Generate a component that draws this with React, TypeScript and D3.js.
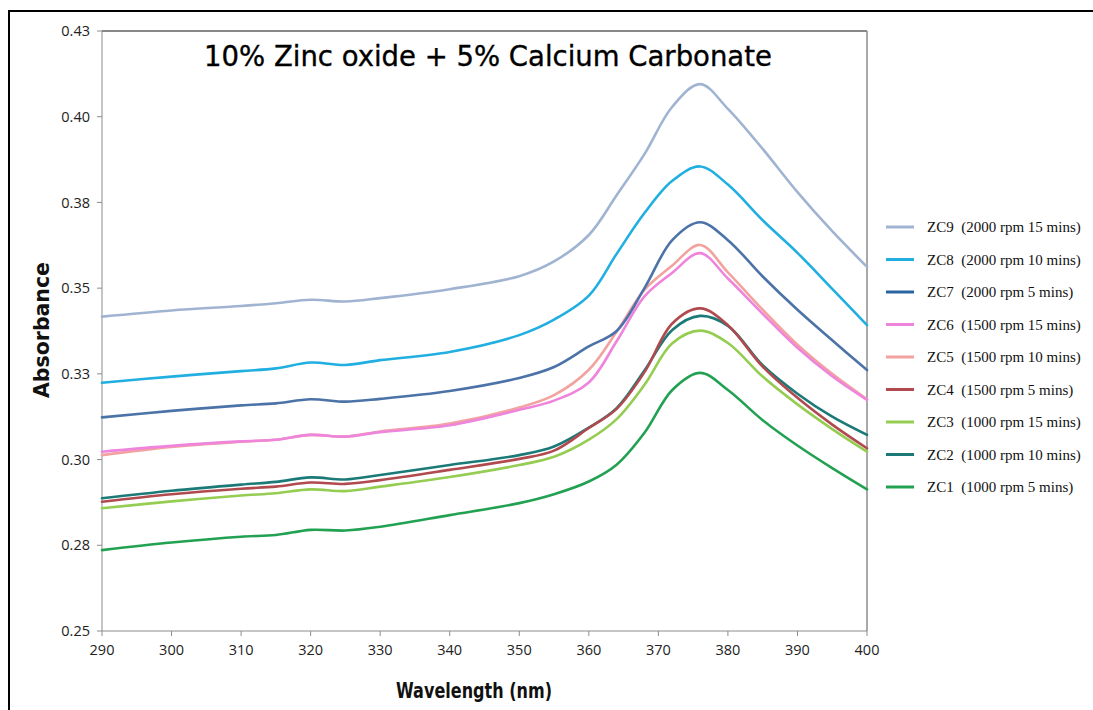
import React from "react";
import * as d3 from "d3";

// UV-Vis absorbance spectra, 290–400 nm
const wavelengths = [290, 300, 310, 315, 320, 325, 330, 340, 350, 355, 360, 364, 368, 372, 376, 380, 385, 390, 395, 400];

const zc1 = [0.2736, 0.2758, 0.2775, 0.278, 0.2795, 0.2793, 0.2804, 0.2838, 0.2873, 0.2899, 0.2936, 0.2985, 0.3078, 0.3203, 0.3253, 0.3203, 0.3115, 0.3041, 0.2975, 0.2913];
const zc2 = [0.2887, 0.2909, 0.2927, 0.2935, 0.2948, 0.2942, 0.2955, 0.2984, 0.3013, 0.3038, 0.3093, 0.315, 0.326, 0.3378, 0.3419, 0.339, 0.3275, 0.3192, 0.3125, 0.3072];
const zc3 = [0.2858, 0.2878, 0.2895, 0.2902, 0.2913, 0.2908, 0.2921, 0.2949, 0.2984, 0.3008, 0.3058, 0.3118, 0.3218, 0.3339, 0.3376, 0.334, 0.3242, 0.3161, 0.3089, 0.3023];
const zc4 = [0.2877, 0.2899, 0.2915, 0.2921, 0.2933, 0.2929, 0.294, 0.297, 0.3002, 0.3026, 0.3092, 0.3148, 0.3255, 0.3397, 0.3441, 0.3392, 0.3271, 0.318, 0.3102, 0.3033];
const zc5 = [0.3013, 0.3037, 0.3052, 0.3058, 0.3072, 0.3067, 0.3082, 0.3105, 0.3152, 0.3188, 0.3262, 0.3373, 0.3495, 0.3566, 0.3626, 0.3546, 0.3437, 0.3335, 0.325, 0.3176];
const zc6 = [0.3023, 0.304, 0.3053, 0.3058, 0.3072, 0.3067, 0.308, 0.31, 0.3145, 0.3172, 0.3225, 0.3345, 0.3476, 0.3545, 0.3602, 0.3528, 0.3425, 0.3326, 0.3243, 0.3174];
const zc7 = [0.3123, 0.3142, 0.3158, 0.3164, 0.3176, 0.3169, 0.3177, 0.32, 0.3238, 0.327, 0.333, 0.3375, 0.35, 0.364, 0.3692, 0.364, 0.3534, 0.3437, 0.3348, 0.3261];
const zc8 = [0.3224, 0.3242, 0.3258, 0.3266, 0.3283, 0.3276, 0.329, 0.3314, 0.3363, 0.3408, 0.3478, 0.36, 0.3719, 0.3813, 0.3855, 0.3802, 0.3698, 0.3603, 0.3498, 0.3392];
const zc9 = [0.3417, 0.3435, 0.3448, 0.3456, 0.3466, 0.3461, 0.3471, 0.3497, 0.3535, 0.3578, 0.3655, 0.3771, 0.3891, 0.4029, 0.4095, 0.4023, 0.3906, 0.378, 0.3666, 0.3562];

const seriesValues = [zc1, zc2, zc3, zc4, zc5, zc6, zc7, zc8, zc9];
const seriesLabels = [
  "ZC1  (1000 rpm 5 mins)",
  "ZC2  (1000 rpm 10 mins)",
  "ZC3  (1000 rpm 15 mins)",
  "ZC4  (1500 rpm 5 mins)",
  "ZC5  (1500 rpm 10 mins)",
  "ZC6  (1500 rpm 15 mins)",
  "ZC7  (2000 rpm 5 mins)",
  "ZC8  (2000 rpm 10 mins)",
  "ZC9  (2000 rpm 15 mins)",
];
const seriesColors = ["#22a152", "#1b7a77", "#95cc52", "#b04a4e", "#f2a3a0", "#ee84dc", "#4b73a8", "#20afe0", "#a0b4d2"];
const legendColors = ["#22a152", "#1b7a77", "#95cc52", "#b04a4e", "#f2a3a0", "#ee84dc", "#2a64a2", "#20afe0", "#a0b4d2"];

const xTicks = [290, 300, 310, 320, 330, 340, 350, 360, 370, 380, 390, 400];
const yTicks = [0.25, 0.275, 0.3, 0.325, 0.35, 0.375, 0.4, 0.425];
const yTickLabels = ["0.25", "0.28", "0.30", "0.33", "0.35", "0.38", "0.40", "0.43"];

export default function App() {
  const width = 1093;
  const height = 710;
  const x = d3.scaleLinear().domain([290, 400]).range([102, 867]);
  const y = d3.scaleLinear().domain([0.25, 0.425]).range([631, 31]);
  const line = d3
    .line<number>()
    .x((_, i) => x(wavelengths[i]))
    .y((d) => y(d))
    .curve(d3.curveCatmullRom.alpha(0.5));

  const [x0, x1] = x.range();
  const [yb, yt] = y.range();
  const tickFont = "'Open Sans', 'Noto Sans', sans-serif";

  // legend lists the highest series first
  const legendOrder = d3.range(seriesValues.length).reverse();

  return (
    <svg
      width={width}
      height={height}
      style={{ position: "absolute", left: 0, top: 0, background: "#fff" }}
    >
      <rect x={0} y={0} width={width} height={height} fill="#fff" />
      {/* outer frame */}
      <path d={`M9,${height} V11 H${width}`} fill="none" stroke="#000" strokeWidth={2} />

      {/* plot box */}
      <line x1={x0} x2={x1} y1={yt} y2={yt} stroke="#111" strokeWidth={1} />
      <line x1={x1} x2={x1} y1={yt} y2={yb} stroke="#8c8c8c" strokeWidth={1.5} />
      <line x1={x0} x2={x0} y1={yt} y2={yb} stroke="#8c8c8c" strokeWidth={1} />
      <line x1={x0} x2={x1} y1={yb} y2={yb} stroke="#8c8c8c" strokeWidth={1} />

      {/* y axis ticks */}
      {yTicks.map((t, i) => (
        <g key={`y${i}`}>
          <line x1={x0 - 5} x2={x0} y1={y(t)} y2={y(t)} stroke="#8c8c8c" />
          <text
            x={x0 - 12}
            y={y(t)}
            dy="0.35em"
            textAnchor="end"
            fontFamily={tickFont}
            fontSize={14.5}
            fill="#222"
          >
            {yTickLabels[i]}
          </text>
        </g>
      ))}

      {/* x axis ticks */}
      {xTicks.map((t) => (
        <g key={`x${t}`}>
          <line x1={x(t)} x2={x(t)} y1={yb} y2={yb + 5} stroke="#8c8c8c" />
          <text
            x={x(t)}
            y={yb + 24}
            textAnchor="middle"
            fontFamily={tickFont}
            fontSize={14.5}
            fill="#222"
          >
            {t}
          </text>
        </g>
      ))}

      {/* spectra */}
      {seriesValues.map((vals, i) => (
        <path
          key={seriesLabels[i]}
          d={line(vals) || ""}
          fill="none"
          stroke={seriesColors[i]}
          strokeWidth={2.6}
          strokeLinejoin="round"
          strokeLinecap="round"
        />
      ))}

      {/* title */}
      <text
        x={488}
        y={66}
        textAnchor="middle"
        fontFamily="'DejaVu Sans', sans-serif"
        fontSize={27.5}
        fill="#000"
        stroke="#000"
        strokeWidth={0.35}
      >
        10% Zinc oxide + 5% Calcium Carbonate
      </text>

      {/* axis titles */}
      <text
        transform={`translate(49,330) rotate(-90)`}
        textAnchor="middle"
        fontFamily="'DejaVu Sans', sans-serif"
        fontWeight="bold"
        fontSize={22}
        fill="#111"
        textLength={136}
        lengthAdjust="spacingAndGlyphs"
      >
        Absorbance
      </text>
      <text
        x={474}
        y={698}
        textAnchor="middle"
        fontFamily="'DejaVu Sans', sans-serif"
        fontWeight="bold"
        fontSize={22}
        fill="#111"
        textLength={156}
        lengthAdjust="spacingAndGlyphs"
      >
        Wavelength (nm)
      </text>

      {/* legend */}
      {legendOrder.map((si, k) => {
        const ly = 227 + k * 32.5;
        return (
          <g key={`lg${si}`}>
            <line x1={886} x2={914} y1={ly} y2={ly} stroke={legendColors[si]} strokeWidth={3} />
            <text
              x={927}
              y={ly}
              dy="0.35em"
              fontFamily="'Liberation Serif', 'Times New Roman', serif"
              fontSize={15}
              fill="#111"
              style={{ whiteSpace: "pre" }}
            >
              {seriesLabels[si]}
            </text>
          </g>
        );
      })}
    </svg>
  );
}
